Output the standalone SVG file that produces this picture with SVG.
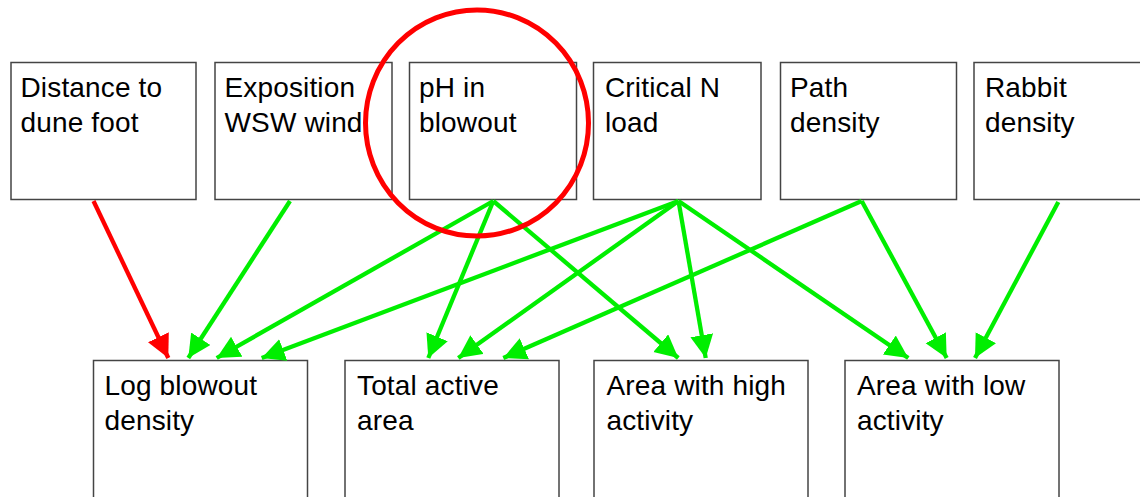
<svg xmlns="http://www.w3.org/2000/svg" width="1140" height="497" viewBox="0 0 1140 497">
<defs>
<style>
.box{fill:#fff;stroke:#444;stroke-width:1.5}
.lbl{font-family:"Liberation Sans",Arial,sans-serif;font-size:28px;letter-spacing:0.15px;fill:#000}
.g{stroke:#00ee00;stroke-width:4.3;fill:none}
.r{stroke:#ff0000;stroke-width:4.3;fill:none}
</style>
<marker id="ag" markerUnits="userSpaceOnUse" markerWidth="25" markerHeight="25" refX="23" refY="11.5" orient="auto" viewBox="0 0 25 25">
<path d="M0,0 L23,11.5 L0,23 z" fill="#00ee00"/>
</marker>
<marker id="ar" markerUnits="userSpaceOnUse" markerWidth="25" markerHeight="25" refX="23" refY="11.5" orient="auto" viewBox="0 0 25 25">
<path d="M0,0 L23,11.5 L0,23 z" fill="#ff0000"/>
</marker>
</defs>
<rect width="1140" height="497" fill="#fff"/>
<g id="n-distance"><rect class="box" x="11" y="62.5" width="185" height="137"/><text class="lbl" x="20.5" y="97">Distance to<tspan x="20.5" y="132">dune foot</tspan></text></g>
<g id="n-exposition"><rect class="box" x="215" y="62.5" width="177" height="137"/><text class="lbl" x="224.5" y="97">Exposition<tspan x="224.5" y="132">WSW wind</tspan></text></g>
<g id="n-ph"><rect class="box" x="409.5" y="62.5" width="167" height="137"/><text class="lbl" x="419" y="97">pH in<tspan x="419" y="132">blowout</tspan></text></g>
<g id="n-critn"><rect class="box" x="593.5" y="62.5" width="167.5" height="137"/><text class="lbl" x="605" y="97">Critical N<tspan x="605" y="132">load</tspan></text></g>
<g id="n-path"><rect class="box" x="780.5" y="62.5" width="176" height="137"/><text class="lbl" x="790" y="97">Path<tspan x="790" y="132">density</tspan></text></g>
<g id="n-rabbit"><rect class="box" x="974" y="62.5" width="180" height="137"/><text class="lbl" x="985" y="97">Rabbit<tspan x="985" y="132">density</tspan></text></g>
<g id="n-log"><rect class="box" x="93.5" y="360.5" width="214" height="160"/><text class="lbl" x="104.5" y="394.5">Log blowout<tspan x="104.5" y="429.5">density</tspan></text></g>
<g id="n-total"><rect class="box" x="345" y="360.5" width="214" height="160"/><text class="lbl" x="357" y="394.5">Total active<tspan x="357" y="429.5">area</tspan></text></g>
<g id="n-high"><rect class="box" x="594" y="360.5" width="214" height="160"/><text class="lbl" x="606.5" y="394.5">Area with high<tspan x="606.5" y="429.5">activity</tspan></text></g>
<g id="n-low"><rect class="box" x="845" y="360.5" width="214" height="160"/><text class="lbl" x="857" y="394.5">Area with low<tspan x="857" y="429.5">activity</tspan></text></g>
<g id="connectors">
<line class="r" x1="93.5" y1="201" x2="168.3" y2="358" marker-end="url(#ar)"/>
<line class="g" x1="290" y1="201" x2="188.3" y2="358" marker-end="url(#ag)"/>
<line class="g" x1="493.3" y1="201" x2="216.7" y2="358" marker-end="url(#ag)"/>
<line class="g" x1="678.5" y1="201" x2="261.7" y2="358" marker-end="url(#ag)"/>
<line class="g" x1="493.3" y1="201" x2="428.3" y2="358" marker-end="url(#ag)"/>
<line class="g" x1="678.5" y1="201" x2="458.3" y2="358" marker-end="url(#ag)"/>
<line class="g" x1="861.7" y1="201" x2="503.3" y2="358" marker-end="url(#ag)"/>
<line class="g" x1="493.3" y1="201" x2="678.3" y2="358" marker-end="url(#ag)"/>
<line class="g" x1="678.5" y1="201" x2="705.7" y2="358" marker-end="url(#ag)"/>
<line class="g" x1="678.5" y1="201" x2="908.3" y2="358" marker-end="url(#ag)"/>
<line class="g" x1="861.7" y1="201" x2="946.7" y2="358" marker-end="url(#ag)"/>
<line class="g" x1="1058.3" y1="202" x2="975" y2="358" marker-end="url(#ag)"/>
</g>
<ellipse id="highlight" cx="477" cy="123" rx="111.5" ry="113" fill="none" stroke="#ff0000" stroke-width="5"/>
</svg>
